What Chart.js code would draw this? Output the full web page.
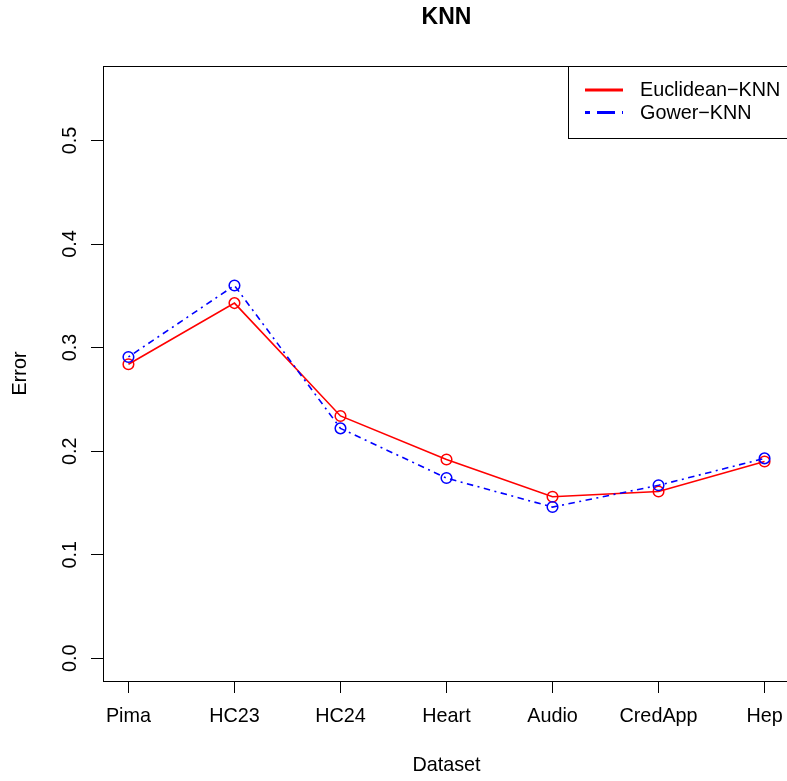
<!DOCTYPE html>
<html>
<head>
<meta charset="utf-8">
<title>KNN</title>
<script src="https://cdn.jsdelivr.net/npm/chart.js@4/dist/chart.umd.min.js"></script>
<style>
  html, body { margin: 0; padding: 0; background: #fff; overflow: hidden; }
  #wrap { width: 800px; height: 781px; }
</style>
</head>
<body>
<div id="wrap"><canvas id="c" width="800" height="781"></canvas></div>
<script>
// Datasets and error rates for the two distance measures
const categories = ['Pima', 'HC23', 'HC24', 'Heart', 'Audio', 'CredApp', 'Hep'];
const euclideanErr = [0.284, 0.343, 0.234, 0.192, 0.156, 0.161, 0.190];
const gowerErr = [0.291, 0.360, 0.222, 0.174, 0.146, 0.167, 0.193];
const yTicks = [0.0, 0.1, 0.2, 0.3, 0.4, 0.5];
const seriesNames = ['Euclidean\u2212KNN', 'Gower\u2212KNN'];

const FONT = 'Liberation Sans, Arial, Helvetica, sans-serif';
const FS = 19.8;
const RED = '#FF0000';
const BLUE = '#0000FF';
const PLOT_DASH = [2, 4.5, 6.5, 4.5];
const LEGEND_DASH = [5, 7, 18, 7];

const toPoints = arr => arr.map((v, i) => ({ x: i + 1, y: v }));

// Plot frame, title and legend box
const framePlugin = {
  id: 'frame',
  afterDraw(chart) {
    const { ctx, chartArea: a } = chart;
    ctx.save();
    ctx.strokeStyle = '#000';
    ctx.lineWidth = 1;
    const L = Math.round(a.left) + 0.5, T = Math.round(a.top) + 0.5;
    const R = Math.round(a.right) + 0.5, B = Math.round(a.bottom) + 0.5;
    ctx.strokeRect(L, T, R - L, B - T);

    // title
    ctx.fillStyle = '#000';
    ctx.font = 'bold 23px ' + FONT;
    ctx.textAlign = 'center';
    ctx.textBaseline = 'middle';
    ctx.fillText('KNN', (a.left + a.right) / 2, 18);

    // legend
    const lx = 568.5, lb = 138.5;
    ctx.fillStyle = '#fff';
    ctx.fillRect(lx, T, R - lx, lb - T);
    ctx.strokeStyle = '#000';
    ctx.lineWidth = 1;
    ctx.strokeRect(lx, T, R - lx, lb - T);

    const rows = [
      { y: 90, color: RED, dash: [], name: seriesNames[0] },
      { y: 112.5, color: BLUE, dash: LEGEND_DASH, name: seriesNames[1] }
    ];
    rows.forEach(r => {
      ctx.beginPath();
      ctx.setLineDash(r.dash);
      ctx.strokeStyle = r.color;
      ctx.lineWidth = 3;
      ctx.moveTo(585, r.y);
      ctx.lineTo(623, r.y);
      ctx.stroke();
      ctx.setLineDash([]);
      ctx.fillStyle = '#000';
      ctx.font = FS + 'px ' + FONT;
      ctx.textAlign = 'left';
      ctx.textBaseline = 'middle';
      ctx.fillText(r.name, 640, r.y + 1);
    });
    ctx.restore();
  }
};

new Chart(document.getElementById('c'), {
  type: 'line',
  data: {
    datasets: [
      {
        label: seriesNames[1],
        data: toPoints(gowerErr),
        borderColor: BLUE,
        borderWidth: 1.6,
        borderDash: PLOT_DASH,
        pointRadius: 5.3,
        pointBorderWidth: 1.5,
        pointBorderColor: BLUE,
        pointBackgroundColor: 'rgba(0,0,0,0)',
        fill: false,
        tension: 0
      },
      {
        label: seriesNames[0],
        data: toPoints(euclideanErr),
        borderColor: RED,
        borderWidth: 1.6,
        pointRadius: 5.3,
        pointBorderWidth: 1.5,
        pointBorderColor: RED,
        pointBackgroundColor: 'rgba(0,0,0,0)',
        fill: false,
        tension: 0
      }
    ]
  },
  options: {
    responsive: false,
    animation: false,
    layout: { padding: { top: 66, right: 10, left: 0, bottom: 0 } },
    plugins: {
      legend: { display: false },
      title: { display: false },
      tooltip: { enabled: false }
    },
    scales: {
      x: {
        type: 'linear',
        min: 0.76,
        max: 7.24,
        afterBuildTicks: s => { s.ticks = categories.map((c, i) => ({ value: i + 1 })); },
        afterFit: s => { s.height = 100; },
        ticks: {
          callback: v => categories[Math.round(v) - 1],
          color: '#000',
          font: { family: FONT, size: FS, lineHeight: 1.2 },
          padding: 12.1,
          maxRotation: 0,
          minRotation: 0,
          autoSkip: false
        },
        grid: { drawOnChartArea: false, drawTicks: true, tickLength: 12, color: '#000', lineWidth: 1 },
        border: { display: false },
        title: {
          display: true,
          text: 'Dataset',
          color: '#000',
          font: { family: FONT, size: FS, lineHeight: 1.2 },
          padding: { top: 0, bottom: 3.1 }
        }
      },
      y: {
        min: -0.022,
        max: 0.572,
        afterBuildTicks: s => { s.ticks = yTicks.map(v => ({ value: v })); },
        afterFit: s => { s.width = 103; },
        ticks: {
          callback: v => Number(v).toFixed(1),
          color: '#000',
          font: { family: FONT, size: FS, lineHeight: 1.2 },
          padding: 6.7,
          minRotation: 90,
          maxRotation: 90,
          crossAlign: 'center',
          autoSkip: false
        },
        grid: { drawOnChartArea: false, drawTicks: true, tickLength: 12, color: '#000', lineWidth: 1 },
        border: { display: false },
        title: {
          display: true,
          text: 'Error',
          color: '#000',
          font: { family: FONT, size: FS, lineHeight: 1.2 },
          padding: { top: 8.6, bottom: 0 }
        }
      }
    }
  },
  plugins: [framePlugin]
});
</script>
</body>
</html>
